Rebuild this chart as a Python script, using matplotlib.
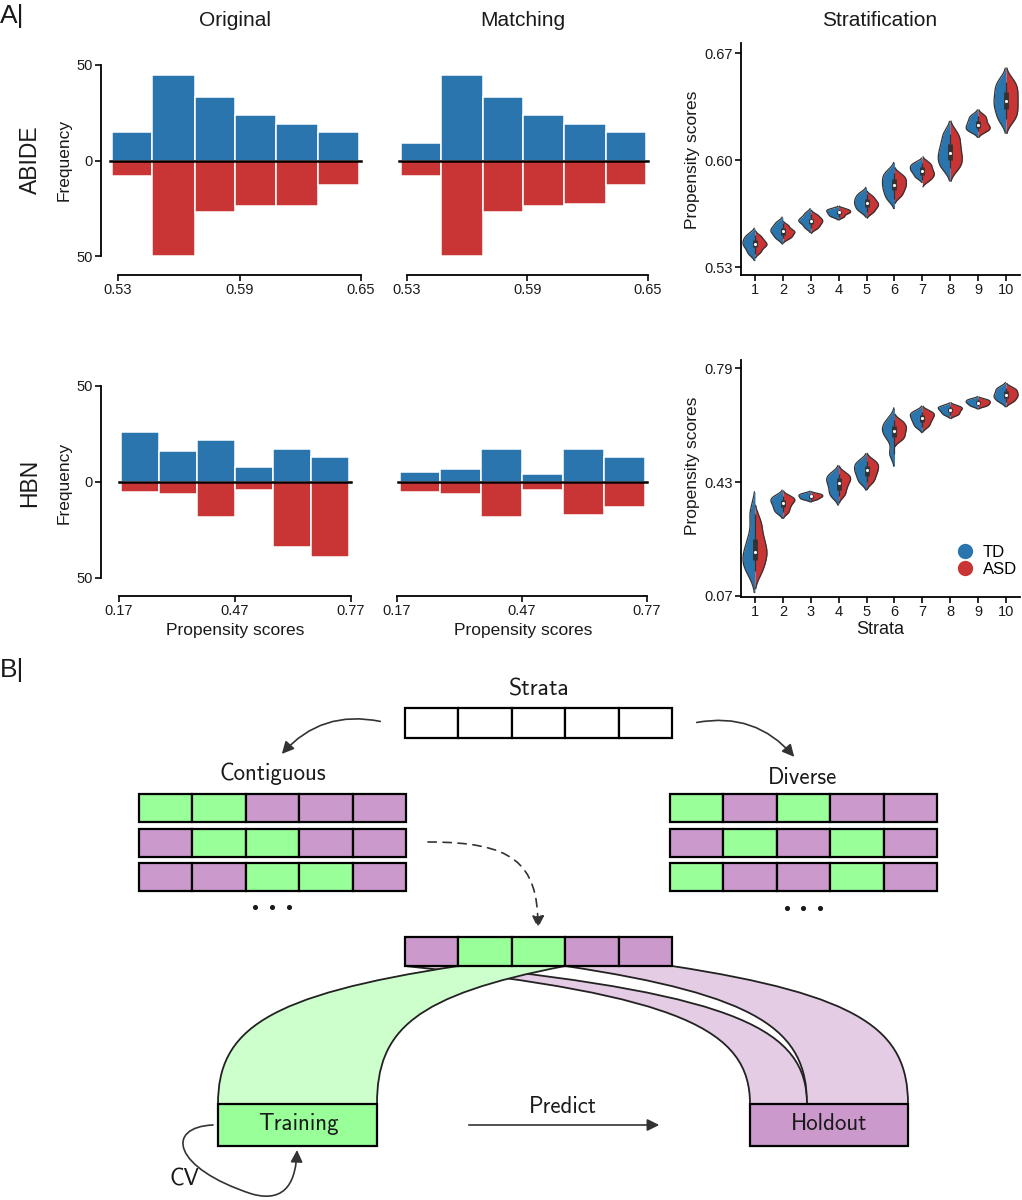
import numpy as np
import matplotlib
matplotlib.use("Agg")
import matplotlib.pyplot as plt
from matplotlib.patches import Rectangle, FancyArrowPatch, PathPatch
from matplotlib.path import Path
from matplotlib.lines import Line2D

plt.rcParams['font.family'] = ['Liberation Sans', 'DejaVu Sans']

W, H = 1022, 1200
BLUE = '#2a75ae'
RED = '#c93535'
GREEN = '#99ff99'
PURPLE = '#cc99cc'
LGREEN = '#ccffcc'
LPURPLE = '#e4cce4'
DARK = '#333333'

# ---- histogram data (counts per propensity bin) ----
abide_edges = [0.527, 0.547, 0.568, 0.588, 0.608, 0.629, 0.649]
abide_orig_td = [15, 45, 33, 24, 19, 15]
abide_orig_asd = [8, 50, 27, 24, 24, 13]
abide_match_td = [9, 45, 33, 24, 19, 15]
abide_match_asd = [8, 50, 27, 24, 23, 13]

hbn_edges = [0.176, 0.274, 0.372, 0.470, 0.568, 0.667, 0.765]
hbn_orig_td = [26, 16, 22, 8, 17, 13]
hbn_orig_asd = [5, 6, 18, 4, 34, 39]
hbn_match_td = [5, 7, 17, 4, 17, 13]
hbn_match_asd = [5, 6, 18, 4, 17, 13]

# ---- violin data (estimated propensity scores per stratum) ----
strata = list(range(1, 11))
abide_td = [
    [.539, .543, .5455, .548, .551], [.549, .552, .554, .556, .559],
    [.556, .559, .5605, .562, .565], [.563, .5645, .5658, .567, .568],
    [.567, .570, .5725, .575, .578], [.575, .580, .584, .588, .592],
    [.589, .592, .594, .596, .598], [.595, .600, .6045, .610, .617],
    [.619, .621, .6233, .626, .629], [.627, .634, .639, .645, .651]]
abide_asd = [
    [.540, .5435, .545, .547, .550], [.549, .551, .553, .554, .557],
    [.5555, .558, .560, .5615, .564], [.563, .565, .566, .567, .568],
    [.566, .569, .571, .573, .576], [.577, .581, .584, .587, .590],
    [.587, .590, .592, .595, .598], [.595, .600, .605, .611, .617],
    [.619, .621, .623, .626, .629], [.627, .633, .639, .645, .651]]
hbn_td = [
    [.15, .18, .205, .25, .33], [.335, .350, .364, .374, .385],
    [.375, .380, .385, .389, .394], [.385, .405, .425, .440, .455],
    [.430, .450, .466, .480, .495], [.52, .57, .590, .605, .625],
    [.605, .620, .632, .643, .652], [.643, .652, .659, .665, .670],
    [.670, .677, .682, .687, .692], [.685, .697, .705, .717, .728]]
hbn_asd = [
    [.15, .19, .215, .25, .30], [.335, .352, .366, .375, .383],
    [.375, .381, .385, .389, .393], [.390, .412, .430, .443, .455],
    [.432, .452, .468, .482, .496], [.565, .580, .595, .607, .622],
    [.607, .622, .634, .644, .652], [.642, .650, .658, .664, .670],
    [.670, .676, .681, .686, .691], [.685, .697, .706, .716, .726]]

# ---- diagram folds (G = training stratum, P = holdout stratum) ----
contiguous = ['GGPPP', 'PGGPP', 'PPGGP']
diverse = ['GPGPP', 'PGPGP', 'GPPGP']
selected = 'PGGPP'


fig = plt.figure(figsize=(W / 100, H / 100), dpi=100)


def px_box(l, t, r, b):
    return [l / W, 1 - b / H, (r - l) / W, (b - t) / H]


def lims(p_lo, p_hi, v1, p1, v2, p2):
    k = (v2 - v1) / (p2 - p1)
    return v1 + (p_lo - p1) * k, v1 + (p_hi - p1) * k


def ftext(x, y, s, **kw):
    fig.text(x / W, 1 - y / H, s, color='#1a1a1a', **kw)


def hist_panel(box, xanch, yanch, edges, td, asd, ticks, show_y):
    l, t, r, b = box
    ax = fig.add_axes(px_box(*box))
    ax.set_xlim(*lims(l, r, *xanch))
    ax.set_ylim(*lims(b, t, *yanch))
    e = np.array(edges)
    w = np.diff(e)
    ax.bar(e[:-1], td, width=w, align='edge', color=BLUE, edgecolor='white', linewidth=1.1)
    ax.bar(e[:-1], [-v for v in asd], width=w, align='edge', color=RED, edgecolor='white', linewidth=1.1)
    pad = (e[-1] - e[0]) * 0.008
    ax.plot([e[0] - pad, e[-1] + pad], [0, 0], color='black', lw=1.8, zorder=4)
    for s in ('top', 'right'):
        ax.spines[s].set_visible(False)
    ax.spines['bottom'].set_bounds(ticks[0], ticks[-1])
    ax.spines['bottom'].set_linewidth(1.3)
    ax.set_xticks(ticks)
    ax.set_xticklabels([f'{v:.2f}' for v in ticks])
    if show_y:
        ax.spines['left'].set_bounds(-50, 50)
        ax.spines['left'].set_linewidth(1.3)
        ax.set_yticks([-50, 0, 50])
        ax.set_yticklabels(['50', '0', '50'])
    else:
        ax.spines['left'].set_visible(False)
        ax.set_yticks([])
    ax.tick_params(labelsize=10.5, length=4, width=1.3, pad=2, colors='#1a1a1a')
    ax.patch.set_alpha(0)
    return ax


hist_panel((101, 55, 365, 275), (0.53, 118, 0.65, 361), (50, 65, -50, 256),
           abide_edges, abide_orig_td, abide_orig_asd, [0.53, 0.59, 0.65], True)
hist_panel((395, 55, 652, 275), (0.53, 406.7, 0.65, 648), (50, 65, -50, 256),
           abide_edges, abide_match_td, abide_match_asd, [0.53, 0.59, 0.65], False)
hist_panel((101, 376, 355, 596), (0.17, 119, 0.77, 351), (50, 386, -50, 578),
           hbn_edges, hbn_orig_td, hbn_orig_asd, [0.17, 0.47, 0.77], True)
hist_panel((390, 376, 652, 596), (0.17, 397, 0.77, 647), (50, 386, -50, 578),
           hbn_edges, hbn_match_td, hbn_match_asd, [0.17, 0.47, 0.77], False)


def violin_panel(box, yanch, td, asd, yt):
    l, t, r, b = box
    ax = fig.add_axes(px_box(*box))
    ax.set_xlim(0.5, 10.5)
    ax.set_ylim(*lims(b, t, *yanch))
    for x, a, c in zip(strata, td, asd):
        for vals, side, col in ((a, -1, BLUE), (c, 1, RED)):
            s = np.array(vals)
            bw = 0.55 * s.std()
            grid = np.linspace(s.min() - 2 * bw, s.max() + 2 * bw, 200)
            dens = np.exp(-0.5 * ((grid[:, None] - s[None, :]) / bw) ** 2).sum(1)
            dens = dens / dens.max() * 0.43
            ax.fill_betweenx(grid, x, x + side * dens, color=col, lw=0)
            ax.plot(x + side * dens, grid, color=DARK, lw=0.9)
        comb = np.concatenate([a, c])
        q1, med, q3 = np.percentile(comb, [25, 50, 75])
        ax.vlines(x, comb.min(), comb.max(), color=DARK, lw=0.9)
        ax.vlines(x, q1, q3, color=DARK, lw=3.5)
        ax.scatter([x], [med], s=5, color='white', zorder=5, linewidths=0)
    for s in ('top', 'right'):
        ax.spines[s].set_visible(False)
    for s in ('left', 'bottom'):
        ax.spines[s].set_linewidth(1.3)
    ax.set_xticks(strata)
    ax.set_yticks(yt)
    ax.set_yticklabels([f'{v:.2f}' for v in yt])
    ax.tick_params(labelsize=10.5, length=4, width=1.3, pad=2, colors='#1a1a1a')
    ax.patch.set_alpha(0)
    return ax


violin_panel((741, 43, 1020, 275), (0.53, 267.3, 0.67, 53.3), abide_td, abide_asd, [0.53, 0.60, 0.67])
axv = violin_panel((741, 360, 1020, 596.7), (0.07, 596, 0.79, 368.3), hbn_td, hbn_asd, [0.07, 0.43, 0.79])
handles = [Line2D([], [], marker='o', ls='', color=BLUE, markersize=10),
           Line2D([], [], marker='o', ls='', color=RED, markersize=10)]
axv.legend(handles, ['TD', 'ASD'], frameon=False, fontsize=12, loc='lower right',
           bbox_to_anchor=(1.02, 0.05), handletextpad=0.1, labelspacing=0.1, borderpad=0)

# ---- panel A text ----
ftext(0, 16, 'A|', fontsize=19, va='center', ha='left')
ftext(235, 21, 'Original', fontsize=15, ha='center', va='center')
ftext(523, 21, 'Matching', fontsize=15, ha='center', va='center')
ftext(880, 21, 'Stratification', fontsize=15, ha='center', va='center')
ftext(30, 160, 'ABIDE', fontsize=16.5, rotation=90, ha='center', va='center')
ftext(30, 483, 'HBN', fontsize=16.5, rotation=90, ha='center', va='center')
ftext(64, 160, 'Frequency', fontsize=12.5, rotation=90, ha='center', va='center')
ftext(64, 483, 'Frequency', fontsize=12.5, rotation=90, ha='center', va='center')
ftext(235, 630, 'Propensity scores', fontsize=12.5, ha='center', va='center')
ftext(523, 630, 'Propensity scores', fontsize=12.5, ha='center', va='center')
ftext(692, 160, 'Propensity scores', fontsize=12.5, rotation=90, ha='center', va='center')
ftext(692, 466, 'Propensity scores', fontsize=12.5, rotation=90, ha='center', va='center')
ftext(880, 629, 'Strata', fontsize=13, ha='center', va='center')
ftext(0, 670, 'B|', fontsize=19, va='center', ha='left')

# ---- panel B diagram in pixel coordinates ----
ad = fig.add_axes([0, 0, 1, 1])
ad.set_xlim(0, W)
ad.set_ylim(H, 0)
ad.axis('off')
ad.patch.set_alpha(0)

DFONT = dict(family=['cmss10', 'DejaVu Sans'], fontsize=16.5, color='#1a1a1a', zorder=8)
CW = 53.4
fill = {'G': GREEN, 'P': PURPLE, 'W': 'white'}


def cell_row(x0, y0, pattern, h=28):
    for k, c in enumerate(pattern):
        ad.add_patch(Rectangle((x0 + k * CW, y0), CW, h, fc=fill[c], ec='black', lw=1.6, zorder=5))


cell_row(405, 708, 'WWWWW', h=30)
ad.text(539, 690, 'Strata', ha='center', va='center', **{**DFONT, 'fontsize': 17})
ad.text(273, 774, 'Contiguous', ha='center', va='center', **DFONT)
ad.text(803, 778, 'Diverse', ha='center', va='center', **DFONT)
for i, (pc, pd) in enumerate(zip(contiguous, diverse)):
    y = 794 + i * 34.5
    cell_row(139, y, pc)
    cell_row(670, y, pd)
ad.scatter([255, 272, 289], [907, 907, 907], s=7, color='#1a1a1a')
ad.scatter([787, 803, 820], [908, 908, 908], s=7, color='#1a1a1a')

arr_kw = dict(arrowstyle='-|>', mutation_scale=18, color=DARK, lw=1.2, zorder=6)
ad.add_patch(FancyArrowPatch((383, 722), (280, 756), connectionstyle='arc3,rad=0.3', **arr_kw))
ad.add_patch(FancyArrowPatch((694, 723), (796, 759), connectionstyle='arc3,rad=-0.3', **arr_kw))
dash_path = Path([(428, 842), (512, 842), (538, 862), (538, 928)],
                 [Path.MOVETO, Path.CURVE4, Path.CURVE4, Path.CURVE4])
ad.add_patch(FancyArrowPatch(path=dash_path, linestyle=(0, (5, 4)), **arr_kw))

# ribbons from selected fold to training / holdout
TOP, BOT = 966, 1104


def edge(x0, x1):
    return [(x0, TOP), (x0 + 0.8 * (x1 - x0), 995), (x1, 1030), (x1, BOT)]


def ribbon(a0, b0, a1, b1, col, z):
    le, re = edge(a0, a1), edge(b0, b1)
    verts = le + re[::-1] + [le[0]]
    codes = [Path.MOVETO] + [Path.CURVE4] * 3 + [Path.LINETO] + [Path.CURVE4] * 3 + [Path.CLOSEPOLY]
    ad.add_patch(PathPatch(Path(verts, codes), fc=col, ec='none', zorder=z))
    for e in (le, re):
        ad.add_patch(PathPatch(Path(e, [Path.MOVETO] + [Path.CURVE4] * 3), fc='none',
                               ec='#222222', lw=1.3, zorder=z))


ribbon(405, 405 + CW, 750, 807, LPURPLE, 1)
ribbon(405 + CW, 405 + 3 * CW, 218, 377, LGREEN, 2)
ribbon(405 + 3 * CW, 405 + 5 * CW, 807, 908, LPURPLE, 3)
cell_row(405, 937, selected, h=29)

ad.add_patch(Rectangle((218, 1104), 159, 42, fc=GREEN, ec='black', lw=1.6, zorder=5))
ad.add_patch(Rectangle((750, 1104), 158, 42, fc=PURPLE, ec='black', lw=1.6, zorder=5))
ad.text(298, 1124, 'Training', ha='center', va='center', **DFONT)
ad.text(829, 1124, 'Holdout', ha='center', va='center', **DFONT)
ad.add_patch(FancyArrowPatch((466, 1125), (662, 1125), **arr_kw))
ad.text(563, 1107, 'Predict', ha='center', va='center', **DFONT)

cv_path = Path([(213, 1125), (165, 1127), (172, 1168), (252, 1194),
                (288, 1204), (296, 1178), (297, 1150)],
               [Path.MOVETO, Path.CURVE4, Path.CURVE4, Path.CURVE4,
                Path.CURVE4, Path.CURVE4, Path.CURVE4])
ad.add_patch(FancyArrowPatch(path=cv_path, **arr_kw))
ad.text(184, 1180, 'CV', ha='center', va='center', **DFONT)

fig.savefig('out.png', dpi=100)
